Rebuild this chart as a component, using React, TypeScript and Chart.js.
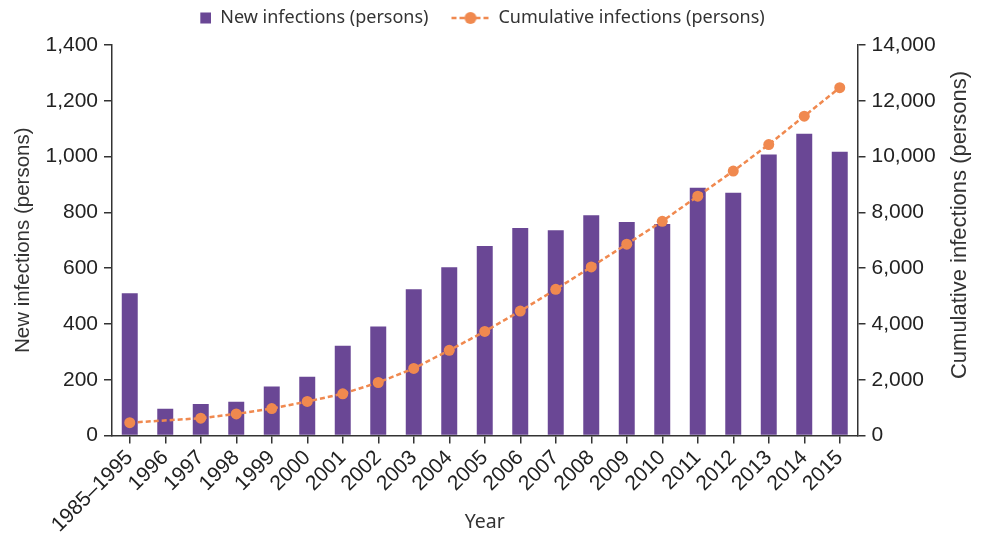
import React, { useEffect, useRef } from "react";
import { Chart, registerables } from "chart.js";

Chart.register(...registerables);

// ---- data ----
const categories: string[] = [
  "1985–1995", "1996", "1997", "1998", "1999", "2000", "2001", "2002", "2003", "2004",
  "2005", "2006", "2007", "2008", "2009", "2010", "2011", "2012", "2013", "2014", "2015",
];
const newInfections: number[] = [
  510, 96, 113, 121, 176, 211, 322, 391, 524, 603,
  679, 744, 736, 790, 765, 758, 888, 870, 1007, 1082, 1017,
];
const cumulativeInfections: (number | null)[] = [
  460, null, 620, 775, 965, 1220, 1495, 1900, 2405, 3055,
  3730, 4460, 5240, 6045, 6860, 7680, 8580, 9480, 10430, 11450, 12470,
];
const leftAxisMax = 1400;
const leftAxisStep = 200;
const rightAxisMax = 14000;
const rightAxisStep = 2000;

const seriesNames = ["New infections (persons)", "Cumulative infections (persons)"];
const leftTitle = "New infections (persons)";
const rightTitle = "Cumulative infections (persons)";
const xTitle = "Year";

// ---- styles ----
const BAR_COLOR = "#6a4795";
const LINE_COLOR = "#f0894f";
const AXIS_COLOR = "#333333";
const TEXT_COLOR = "#222222";
const TICK_FONT = { family: "'Liberation Sans', Arial, sans-serif", size: 21 };
const YTITLE_FONT = { family: "'Liberation Sans', Arial, sans-serif", size: 20.5 };
const LEGEND_FONT = { family: "'Noto Sans', sans-serif", size: 18 };
const XTITLE_FONT = { family: "'Noto Sans', sans-serif", size: 19.5 };
const ICON_W = 43;

function makeBarIcon(): HTMLCanvasElement {
  const c = document.createElement("canvas");
  c.width = ICON_W;
  c.height = 18;
  const ctx = c.getContext("2d")!;
  ctx.fillStyle = BAR_COLOR;
  ctx.fillRect(ICON_W - 11, 3.5, 11, 11);
  return c;
}

function makeLineIcon(): HTMLCanvasElement {
  const c = document.createElement("canvas");
  c.width = ICON_W;
  c.height = 18;
  const ctx = c.getContext("2d")!;
  const x0 = ICON_W - 38;
  ctx.strokeStyle = LINE_COLOR;
  ctx.lineWidth = 2.5;
  ctx.setLineDash([5, 3]);
  ctx.beginPath();
  ctx.moveTo(x0, 9);
  ctx.lineTo(ICON_W, 9);
  ctx.stroke();
  ctx.setLineDash([]);
  ctx.fillStyle = LINE_COLOR;
  ctx.beginPath();
  ctx.arc(x0 + 19, 9, 6, 0, Math.PI * 2);
  ctx.fill();
  return c;
}

const rightTitlePlugin = {
  id: "rightTitle",
  afterDraw(chart: any) {
    const ctx = chart.ctx as CanvasRenderingContext2D;
    ctx.save();
    ctx.font = `22px 'Liberation Sans', Arial, sans-serif`;
    ctx.fillStyle = AXIS_COLOR;
    ctx.textAlign = "center";
    ctx.textBaseline = "middle";
    ctx.translate(960, 225);
    ctx.rotate(-Math.PI / 2);
    ctx.fillText(rightTitle, 0, 0);
    ctx.restore();
  },
};

export default function App() {
  const canvasRef = useRef<HTMLCanvasElement | null>(null);

  useEffect(() => {
    if (!canvasRef.current) return;
    const barIcon = makeBarIcon();
    const lineIcon = makeLineIcon();

    const fmt = (v: any) => Number(v).toLocaleString("en-US");

    const chart = new Chart(canvasRef.current, {
      type: "bar",
      data: {
        labels: categories,
        datasets: [
          {
            type: "bar",
            label: seriesNames[0],
            data: newInfections,
            backgroundColor: BAR_COLOR,
            yAxisID: "y",
            order: 2,
            categoryPercentage: 1,
            barPercentage: 0.45,
          },
          {
            type: "line",
            label: seriesNames[1],
            data: cumulativeInfections,
            borderColor: LINE_COLOR,
            backgroundColor: LINE_COLOR,
            borderWidth: 2.5,
            borderDash: [5, 3],
            pointRadius: 5.5,
            pointBackgroundColor: LINE_COLOR,
            pointBorderWidth: 0,
            spanGaps: true,
            tension: 0,
            yAxisID: "y1",
            order: 1,
          },
        ],
      },
      options: {
        animation: false,
        responsive: false,
        layout: { padding: { top: -9, left: -7, right: 41, bottom: 0 } },
        plugins: {
          tooltip: { enabled: false },
          subtitle: {
            display: true,
            text: "",
            weight: 500,
            position: "top",
            font: { size: 8, lineHeight: 1 },
            padding: 0,
          },
          legend: {
            position: "top",
            labels: {
              usePointStyle: true,
              pointStyleWidth: ICON_W,
              padding: 18,
              color: "#333333",
              font: LEGEND_FONT,
              generateLabels: () => [
                {
                  text: seriesNames[0],
                  pointStyle: barIcon,
                  fillStyle: BAR_COLOR,
                  strokeStyle: BAR_COLOR,
                  lineWidth: 0,
                  hidden: false,
                  datasetIndex: 0,
                  fontColor: "#333333",
                } as any,
                {
                  text: seriesNames[1],
                  pointStyle: lineIcon,
                  fillStyle: LINE_COLOR,
                  strokeStyle: LINE_COLOR,
                  lineWidth: 0,
                  hidden: false,
                  datasetIndex: 1,
                  fontColor: "#333333",
                } as any,
              ],
            },
          },
        },
        scales: {
          x: {
            type: "category",
            offset: true,
            grid: {
              offset: false,
              drawOnChartArea: false,
              drawTicks: true,
              tickLength: 8,
              tickColor: AXIS_COLOR,
              lineWidth: 1.5,
            },
            border: { display: true, color: AXIS_COLOR, width: 1.5 },
            ticks: {
              minRotation: 45,
              maxRotation: 45,
              autoSkip: false,
              color: TEXT_COLOR,
              font: TICK_FONT,
              padding: 2,
            },
            title: {
              display: true,
              text: xTitle,
              color: "#333333",
              font: XTITLE_FONT,
              padding: { top: 4, bottom: 0 },
            },
            afterFit: (s: any) => {
              s.height = 98.5;
            },
          },
          y: {
            position: "left",
            min: 0,
            max: leftAxisMax,
            grid: {
              drawOnChartArea: false,
              drawTicks: true,
              tickLength: 8,
              tickColor: AXIS_COLOR,
              lineWidth: 1.5,
            },
            border: { display: true, color: AXIS_COLOR, width: 1.5 },
            ticks: {
              stepSize: leftAxisStep,
              color: TEXT_COLOR,
              font: TICK_FONT,
              padding: 6,
              callback: fmt,
            },
            title: {
              display: true,
              text: leftTitle,
              color: AXIS_COLOR,
              font: YTITLE_FONT,
              padding: { top: 17.7, bottom: 0 },
            },
            afterFit: (s: any) => {
              s.width = 119;
            },
          },
          y1: {
            position: "right",
            min: 0,
            max: rightAxisMax,
            grid: {
              drawOnChartArea: false,
              drawTicks: true,
              tickLength: 8,
              tickColor: AXIS_COLOR,
              lineWidth: 1.5,
            },
            border: { display: true, color: AXIS_COLOR, width: 1.5 },
            ticks: {
              stepSize: rightAxisStep,
              color: TEXT_COLOR,
              font: TICK_FONT,
              padding: 6,
              callback: fmt,
            },
            afterFit: (s: any) => {
              s.width = 82.5;
            },
          },
        },
      } as any,
      plugins: [rightTitlePlugin],
    });

    return () => chart.destroy();
  }, []);

  return (
    <div style={{ position: "absolute", left: 0, top: 0, width: 981, height: 534, background: "#ffffff" }}>
      <canvas ref={canvasRef} width={981} height={534} style={{ display: "block" }} />
    </div>
  );
}
